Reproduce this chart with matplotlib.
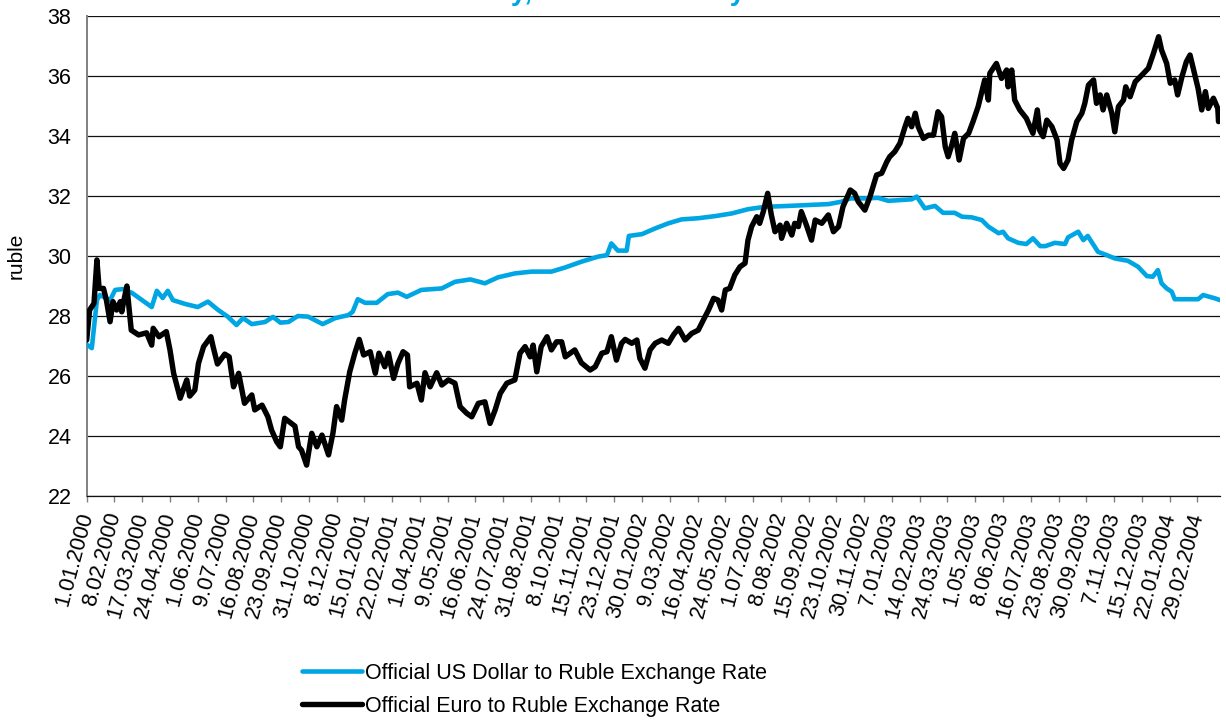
#!/usr/bin/env python3
"""Official USD and EUR to ruble exchange rates, January 2000 - March 2004."""

import numpy as np
import pandas as pd
import matplotlib

matplotlib.use("Agg")

import matplotlib.pyplot as plt

plt.rcParams["font.family"] = ["Liberation Sans", "DejaVu Sans"]

START = "2000-01-01"

# x-axis labels, one every 38 days
TICK_LABELS = [
    "1.01.2000", "8.02.2000", "17.03.2000", "24.04.2000", "1.06.2000",
    "9.07.2000", "16.08.2000", "23.09.2000", "31.10.2000", "8.12.2000",
    "15.01.2001", "22.02.2001", "1.04.2001", "9.05.2001", "16.06.2001",
    "24.07.2001", "31.08.2001", "8.10.2001", "15.11.2001", "23.12.2001",
    "30.01.2002", "9.03.2002", "16.04.2002", "24.05.2002", "1.07.2002",
    "8.08.2002", "15.09.2002", "23.10.2002", "30.11.2002", "7.01.2003",
    "14.02.2003", "24.03.2003", "1.05.2003", "8.06.2003", "16.07.2003",
    "23.08.2003", "30.09.2003", "7.11.2003", "15.12.2003", "22.01.2004",
    "29.02.2004",
]
LAST_DAY = 1551  # 31.03.2004

# US dollar: days since 1.01.2000 and rate (rubles)
usd_days = [
    0, 7, 14, 18, 32, 39, 50, 62, 89, 96, 104, 111, 118, 135, 152, 166,
    180, 193, 205, 214, 226, 244, 255, 265, 276, 289, 303, 323, 340, 358,
    364, 371, 381, 397, 412, 426, 438, 458, 486, 504, 525, 545, 563, 586,
    609, 636, 655, 677, 700, 712, 718, 727, 739, 742, 760, 778, 796, 814,
    837, 860, 883, 905, 928, 960, 987, 1015, 1033, 1045, 1065, 1083, 1097,
    1129, 1136, 1147, 1161, 1172, 1188, 1198, 1211, 1225, 1234, 1248, 1254,
    1261, 1275, 1286, 1295, 1305, 1312, 1325, 1339, 1343, 1357, 1364, 1370,
    1384, 1396, 1407, 1425, 1439, 1451, 1459, 1466, 1471, 1478, 1485, 1489,
    1507, 1521, 1528, 1544, 1551,
]
usd_rate = [
    27.05, 26.93, 28.53, 28.70, 28.53, 28.87, 28.90, 28.77, 28.30, 28.84,
    28.60, 28.84, 28.53, 28.40, 28.30, 28.48, 28.20, 27.98, 27.70, 27.93,
    27.73, 27.80, 27.97, 27.78, 27.80, 28.00, 27.98, 27.73, 27.93, 28.03,
    28.14, 28.56, 28.44, 28.44, 28.73, 28.78, 28.64, 28.87, 28.92, 29.14,
    29.22, 29.09, 29.29, 29.42, 29.48, 29.48, 29.62, 29.81, 29.98, 30.03,
    30.42, 30.18, 30.18, 30.67, 30.73, 30.92, 31.09, 31.22, 31.26, 31.33,
    31.42, 31.56, 31.64, 31.67, 31.70, 31.73, 31.81, 31.92, 31.92, 31.94,
    31.84, 31.89, 31.98, 31.59, 31.67, 31.44, 31.44, 31.31, 31.29, 31.20,
    30.98, 30.76, 30.81, 30.59, 30.44, 30.40, 30.59, 30.33, 30.33, 30.44,
    30.40, 30.62, 30.81, 30.53, 30.67, 30.14, 30.03, 29.92, 29.84, 29.64,
    29.33, 29.31, 29.53, 29.09, 28.92, 28.81, 28.56, 28.56, 28.56, 28.70,
    28.59, 28.53,
]

# Euro: days since 1.01.2000 and rate (rubles)
eur_days = [
    0, 4, 10, 14, 17, 23, 27, 32, 36, 41, 46, 48, 51, 55, 61, 71, 82, 89,
    91, 99, 109, 114, 119, 128, 137, 141, 148, 153, 160, 170, 173, 179, 189,
    195, 201, 208, 216, 226, 230, 240, 248, 253, 260, 265, 271, 285, 290,
    294, 301, 308, 315, 322, 331, 337, 342, 349, 353, 360, 367, 373, 379,
    388, 395, 400, 408, 413, 420, 426, 433, 439, 442, 452, 458, 463, 470,
    479, 486, 495, 504, 511, 520, 527, 536, 545, 552, 559, 566, 575, 586,
    593, 600, 607, 611, 616, 622, 630, 636, 643, 650, 655, 668, 677, 689,
    696, 705, 712, 718, 725, 732, 737, 746, 753, 757, 764, 771, 778, 787,
    796, 803, 810, 819, 828, 837, 844, 851, 858, 864, 869, 874, 880, 887,
    894, 901, 905, 910, 917, 921, 926, 932, 937, 942, 949, 951, 958, 965,
    969, 974, 978, 985, 992, 997, 1006, 1015, 1022, 1029, 1035, 1045, 1051,
    1056, 1065, 1072, 1081, 1088, 1095, 1099, 1106, 1113, 1120, 1124, 1129,
    1134, 1138, 1145, 1152, 1159, 1165, 1170, 1175, 1179, 1184, 1188, 1194,
    1200, 1207, 1213, 1220, 1225, 1229, 1234, 1236, 1245, 1252, 1259, 1261,
    1266, 1270, 1277, 1286, 1295, 1301, 1304, 1309, 1314, 1321, 1328, 1332,
    1337, 1343, 1348, 1355, 1362, 1366, 1371, 1378, 1382, 1387, 1391, 1396,
    1403, 1407, 1412, 1419, 1422, 1428, 1435, 1444, 1453, 1460, 1467, 1471,
    1478, 1483, 1489, 1493, 1499, 1505, 1510, 1515, 1521, 1526, 1531, 1535,
    1542, 1548, 1549, 1551,
]
eur_rate = [
    27.20, 28.20, 28.42, 29.87, 28.92, 28.92, 28.53, 27.81, 28.48, 28.20,
    28.48, 28.14, 28.53, 29.00, 27.53, 27.37, 27.44, 27.03, 27.59, 27.31,
    27.48, 26.87, 26.09, 25.26, 25.87, 25.33, 25.53, 26.42, 26.98, 27.31,
    26.98, 26.40, 26.73, 26.64, 25.64, 26.09, 25.09, 25.37, 24.87, 25.03,
    24.64, 24.20, 23.81, 23.64, 24.59, 24.33, 23.64, 23.53, 23.03, 24.09,
    23.64, 24.03, 23.37, 24.09, 24.98, 24.53, 25.20, 26.14, 26.76, 27.22,
    26.70, 26.81, 26.09, 26.76, 26.31, 26.76, 25.92, 26.42, 26.81, 26.70,
    25.64, 25.76, 25.20, 26.11, 25.64, 26.11, 25.70, 25.87, 25.76, 24.98,
    24.76, 24.64, 25.09, 25.14, 24.42, 24.87, 25.42, 25.76, 25.87, 26.76,
    26.98, 26.64, 27.03, 26.14, 26.98, 27.31, 26.87, 27.14, 27.14, 26.64,
    26.87, 26.44, 26.20, 26.31, 26.76, 26.81, 27.31, 26.53, 27.09, 27.22,
    27.09, 27.20, 26.59, 26.26, 26.87, 27.09, 27.20, 27.09, 27.37, 27.59,
    27.20, 27.42, 27.53, 27.87, 28.20, 28.59, 28.53, 28.20, 28.87, 28.92,
    29.37, 29.64, 29.76, 30.53, 30.98, 31.31, 31.09, 31.48, 32.09, 31.37,
    30.81, 31.03, 30.59, 31.09, 30.70, 31.09, 30.98, 31.48, 31.03, 30.53,
    31.20, 31.09, 31.37, 30.81, 30.98, 31.64, 32.20, 32.09, 31.81, 31.53,
    31.98, 32.70, 32.76, 33.14, 33.31, 33.48, 33.76, 34.31, 34.59, 34.31,
    34.76, 34.31, 33.92, 34.03, 34.03, 34.81, 34.64, 33.64, 33.31, 33.70,
    34.09, 33.20, 33.92, 34.09, 34.48, 34.98, 35.48, 35.87, 35.20, 36.09,
    36.42, 35.92, 36.20, 35.64, 36.20, 35.20, 34.87, 34.59, 34.09, 34.87,
    34.20, 33.98, 34.53, 34.31, 33.87, 33.09, 32.92, 33.20, 33.87, 34.48,
    34.76, 35.09, 35.70, 35.87, 35.09, 35.37, 34.87, 35.37, 34.76, 34.14,
    34.98, 35.20, 35.64, 35.31, 35.81, 36.03, 36.26, 36.76, 37.31, 36.87,
    36.42, 35.76, 35.87, 35.37, 35.98, 36.48, 36.70, 36.20, 35.59, 34.87,
    35.48, 34.92, 35.26, 34.92, 34.48, 34.75,
]

Y_TICKS = [22, 24, 26, 28, 30, 32, 34, 36, 38]

USD_COLOR = "#00a6e4"
EUR_COLOR = "#000000"


def to_dates(days):
    return np.datetime64(START) + np.array(days).astype("timedelta64[D]")


def main() -> None:
    fig = plt.figure(figsize=(12.26, 7.22), dpi=100)
    fig.patch.set_facecolor("white")
    ax = fig.add_axes([0.0707, 0.313, 0.9244, 0.6648])

    ax.plot(to_dates(usd_days), usd_rate, color=USD_COLOR, linewidth=3.3,
            solid_joinstyle="round", solid_capstyle="round", zorder=3,
            label="Official US Dollar to Ruble Exchange Rate")
    ax.plot(to_dates(eur_days), eur_rate, color=EUR_COLOR, linewidth=3.9,
            solid_joinstyle="round", solid_capstyle="round", zorder=4,
            label="Official Euro to Ruble Exchange Rate")

    tick_dates = pd.to_datetime(TICK_LABELS, format="%d.%m.%Y").values
    ax.set_xlim(to_dates([0])[0], to_dates([LAST_DAY])[0])
    ax.set_xticks(tick_dates)
    ax.set_xticklabels(TICK_LABELS, rotation=75, ha="right", va="center",
                       rotation_mode="anchor", fontsize=15.5)
    ax.set_ylim(22, 38)
    ax.set_yticks(Y_TICKS)
    ax.tick_params(axis="y", length=0, pad=11, labelsize=15.5)
    ax.tick_params(axis="x", direction="out", length=4, width=1,
                   color="#808080", pad=8)

    ax.grid(True, axis="y", color="#111111", linewidth=0.9, zorder=1)
    ax.grid(False, axis="x")
    ax.set_axisbelow(True)
    for side in ("top", "right"):
        ax.spines[side].set_visible(False)
    ax.spines["left"].set_color("#808080")
    ax.spines["left"].set_linewidth(1.4)
    ax.spines["bottom"].set_color("#111111")
    ax.spines["bottom"].set_linewidth(0.9)

    ax.set_ylabel("ruble", fontsize=15)
    ax.yaxis.set_label_coords(-0.054, 0.5)

    # title sits above the top edge, only its lowest pixels show
    fig.text(0.3426, 1.0, "January, 2000 - February 2004",
             ha="left", va="baseline", fontsize=20, fontweight="bold",
             color=USD_COLOR)

    fig.legend(loc="upper left", bbox_to_anchor=(0.2461, 0.0817),
               frameon=False, borderpad=0, borderaxespad=0,
               handlelength=2.8, handletextpad=0.15, labelspacing=0.55,
               fontsize=15.5)

    fig.savefig("out.png", dpi=100, facecolor=fig.get_facecolor())
    plt.close(fig)


if __name__ == "__main__":
    main()
